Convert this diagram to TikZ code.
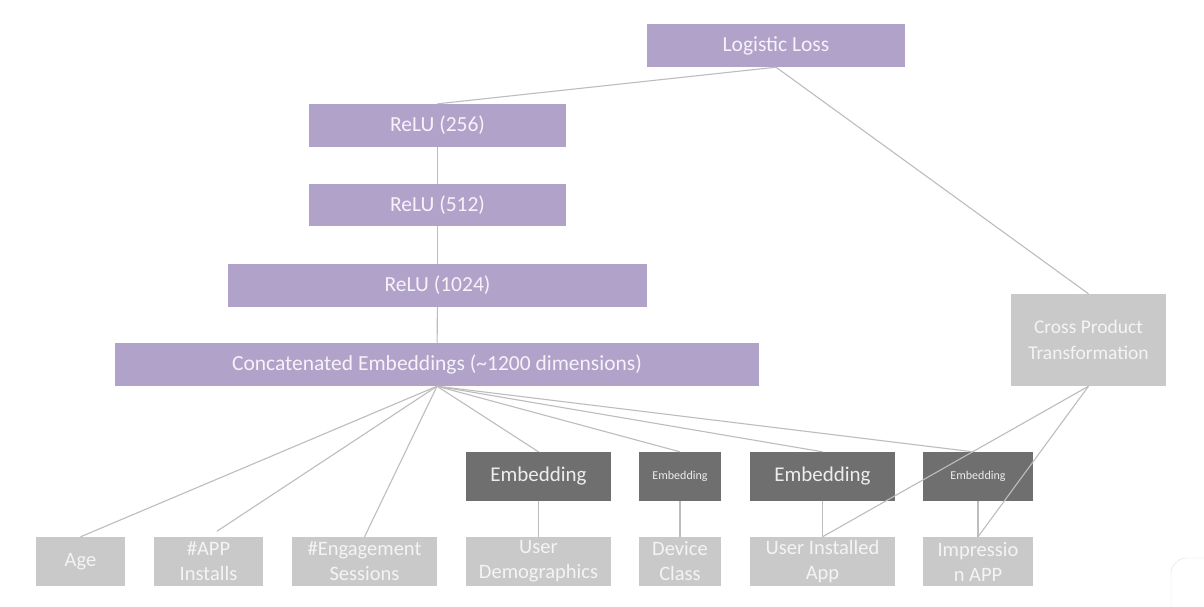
\documentclass[tikz,border=0pt]{standalone}
\usepackage{fontspec}
\setmainfont{Carlito}
\definecolor{pur}{HTML}{B1A2C9}
\definecolor{purtxt}{HTML}{F6F2FA}
\definecolor{dark}{HTML}{6F6F6F}
\definecolor{darktxt}{HTML}{EDEDED}
\definecolor{light}{HTML}{C9C9C9}
\definecolor{lighttxt}{HTML}{F4F4F4}
\definecolor{wire}{HTML}{BDBDBD}
\begin{document}
\begin{tikzpicture}[x=1pt,y=-1pt,
  purbox/.style={fill=pur,text=purtxt,inner sep=0pt,minimum height=43pt,font=\fontsize{21.5}{25}\selectfont},
  darkbox/.style={fill=dark,text=darktxt,inner sep=0pt,minimum height=49pt,font=\fontsize{21}{25}\selectfont},
  smalldark/.style={darkbox,font=\fontsize{12}{14}\selectfont},
  lightbox/.style={fill=light,text=lighttxt,inner sep=0pt,minimum height=49pt,align=center,font=\fontsize{20.5}{25}\selectfont},
  wireline/.style={draw=wire,line width=1.1pt}]
\useasboundingbox (0,0) rectangle (1204,606);
\fill[white] (0,0) rectangle (1204,606);
% purple stack
\node[purbox,minimum width=258pt] (loss) at (776,45.5) {Logistic Loss};
\node[purbox,minimum width=257pt] (r256) at (437.5,125.5) {ReLU (256)};
\node[purbox,minimum width=257pt,minimum height=42pt] (r512) at (437.5,205) {ReLU (512)};
\node[purbox,minimum width=419pt] (r1024) at (437.5,285.5) {ReLU (1024)};
\node[purbox,minimum width=644pt] (concat) at (437,364.5) {Concatenated Embeddings (\textasciitilde1200 dimensions)};
\node[lightbox,minimum width=155pt,minimum height=92pt,font=\fontsize{19.5}{26}\selectfont] (cross) at (1088.5,340) {Cross Product\\Transformation};
% embeddings
\node[darkbox,minimum width=145pt] (emb1) at (538.5,476.5) {Embedding};
\node[smalldark,minimum width=82pt] (emb2) at (680,476.5) {Embedding};
\node[darkbox,minimum width=145pt] (emb3) at (822.5,476.5) {Embedding};
\node[smalldark,minimum width=110pt] (emb4) at (978,476.5) {Embedding};
% inputs
\node[lightbox,minimum width=89pt] (age) at (80.5,561.5) {Age};
\node[lightbox,minimum width=109pt] (app) at (208.5,561.5) {\#APP\\Installs};
\node[lightbox,minimum width=145pt] (eng) at (364.5,561.5) {\#Engagement\\Sessions};
\node[lightbox,minimum width=145pt] (demo) at (538.5,561.5) {User\\Demographics};
\node[lightbox,minimum width=82pt] (dev) at (680,561.5) {Device\\Class};
\node[lightbox,minimum width=145pt] (inst) at (822.5,561.5) {User Installed\\App};
\node[lightbox,minimum width=110pt] (imp) at (978,561.5) {Impressio\\n APP};
% connectors
\draw[wireline] (loss.south) -- (r256.north);
\draw[wireline] (loss.south) -- (cross.north);
\draw[wireline] (r256) -- (r512);
\draw[wireline] (r512) -- (r1024);
\draw[wireline] (r1024) -- (concat);
\draw[wireline] (concat.south) -- (age.north);
\draw[wireline,shorten >=10pt] (concat.south) -- (app.north);
\draw[wireline] (concat.south) -- (eng.north);
\draw[wireline] (concat.south) -- (emb1.north);
\draw[wireline] (concat.south) -- (emb2.north);
\draw[wireline] (concat.south) -- (emb3.north);
\draw[wireline] (concat.south) -- ([xshift=-5pt]emb4.north);
\draw[wireline] (emb1) -- (demo);
\draw[wireline] (emb2) -- (dev);
\draw[wireline] (emb3) -- (inst);
\draw[wireline] (emb4) -- (imp);
\draw[wireline] (cross.south) -- (inst.north);
\draw[wireline] (cross.south) -- (imp.north);
% corner panel
\draw[draw=black!12,fill=white,rounded corners=16pt] (1171,558) rectangle (1230,640);
\end{tikzpicture}
\end{document}
